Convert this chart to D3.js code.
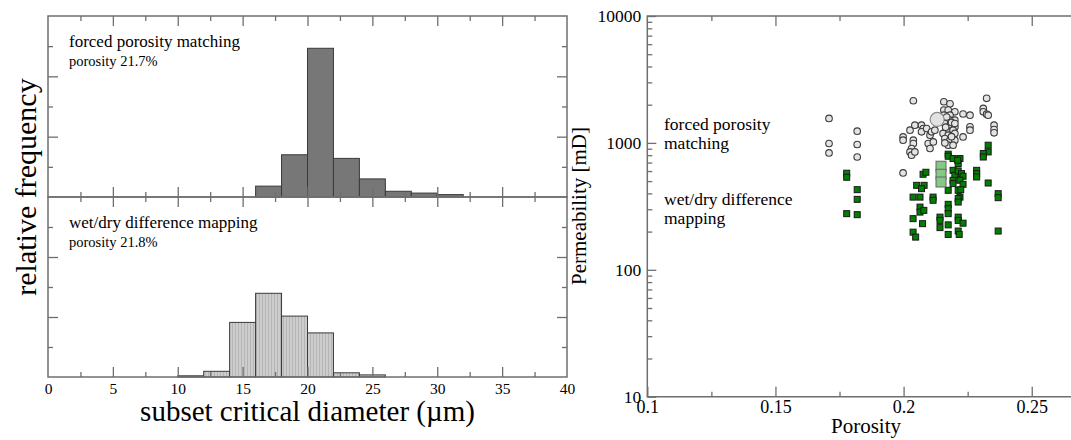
<!DOCTYPE html>
<html><head><meta charset="utf-8">
<script src="https://cdn.jsdelivr.net/npm/d3@7"></script>
<style>
body{margin:0;background:#fff}
svg{display:block}
text{font-family:"Liberation Serif","Times New Roman",serif;fill:#000}
</style>
</head><body>
<svg id="c" width="1071" height="440"></svg>
<script>
// ---------------- data ----------------
const diameterTicks = [0, 5, 10, 15, 20, 25, 30, 35, 40];
const diameterMinorTicks = [2.5, 7.5, 12.5, 17.5, 22.5, 27.5, 32.5, 37.5];
const freqMajorTicks = [0.2, 0.4];
const freqMinorTicks = [0.1, 0.3, 0.5];
const binWidth = 2;
const forcedBinStart = [16, 18, 20, 22, 24, 26, 28, 30];
const forcedFreq = [0.036, 0.140, 0.493, 0.128, 0.060, 0.019, 0.013, 0.008];
const wetDryBinStart = [10, 12, 14, 16, 18, 20, 22, 24];
const wetDryFreq = [0.004, 0.019, 0.182, 0.279, 0.203, 0.147, 0.014, 0.007];

const porosityTicks = [0.1, 0.15, 0.2, 0.25];
const porosityMinorTicks = [0.125, 0.175, 0.225];
const permTicks = [10, 100, 1000, 10000];

// forced porosity matching (porosity, permeability mD)
const forcedPoints = [
  [0.1709,1560],[0.1709,989],[0.1709,834],[0.1819,1237],[0.1819,971],[0.1819,774],
  [0.2038,2148],[0.2157,2109],[0.2181,2033],[0.2157,1813],[0.2174,1813],[0.2200,1758],
  [0.2157,1655],[0.2181,1655],[0.2181,1511],[0.2200,1511],[0.2161,1422],[0.2181,1380],
  [0.2200,1337],[0.2168,1260],[0.2193,1260],[0.2154,1187],[0.2174,1151],[0.2200,1187],
  [0.2161,1083],[0.2181,1050],[0.2200,1050],[0.2174,959],[0.2193,959],
  [0.2232,1690],[0.2259,1655],[0.2232,1115],[0.2259,1340],[0.2259,1260],
  [0.2324,2244],[0.2311,1870],[0.2311,1758],[0.2324,1683],[0.2330,1655],
  [0.2353,1380],[0.2353,1275],[0.2353,1200],
  [0.2025,1260],[0.2044,1380],[0.2070,1380],[0.2077,1299],[0.2070,1222],[0.2090,1299],
  [0.2103,1151],[0.2109,1222],[0.2122,1260],[0.2096,989],[0.2103,903],[0.2116,1018],
  [0.1998,1115],[0.1998,1050],[0.2038,1050],[0.2038,989],[0.2031,903],[0.2025,849],
  [0.2031,800],[0.2044,849],[0.1998,580],
  [0.2168,1600],[0.2187,1450],[0.2164,1330],[0.2187,1120],[0.2161,1000],[0.2200,1420]
];
// wet/dry difference mapping
const wetDryPoints = [
  [0.1778,577],[0.1778,536],[0.1819,428],[0.1819,359],[0.1778,277],[0.1819,272],
  [0.2174,815],[0.2174,785],[0.2193,753],[0.2220,753],[0.2213,687],[0.2211,730],
  [0.2076,566],[0.2087,587],
  [0.2051,463],[0.2080,463],[0.2070,436],
  [0.2037,374],[0.2064,374],
  [0.2115,374],[0.2115,353],
  [0.2064,312],[0.2064,285],[0.2079,294],
  [0.2037,253],[0.2074,231],
  [0.2037,198],[0.2047,181],
  [0.2142,260],[0.2142,245],[0.2142,215],
  [0.2174,328],[0.2174,303],[0.2174,277],[0.2174,226],[0.2174,190],
  [0.2174,423],
  [0.2193,608],[0.2200,556],[0.2193,507],[0.2193,478],
  [0.2213,601],[0.2226,573],[0.2232,546],[0.2220,508],[0.2232,472],
  [0.2213,423],[0.2223,428],
  [0.2220,374],[0.2213,364],[0.2213,342],
  [0.2213,260],[0.2213,245],[0.2232,233],
  [0.2213,202],[0.2217,190],
  [0.2285,608],[0.2285,573],[0.2285,539],
  [0.2330,483],
  [0.2369,398],[0.2369,370],
  [0.2369,202],
  [0.2330,959],[0.2330,849],[0.2311,824],[0.2311,774]
];
const forcedMean = [[0.2131, 1530]];
const wetDryMean = [[0.2146, 655], [0.2146, 566], [0.2146, 492]];

// ---------------- drawing ----------------
const svg = d3.select("#c");
const frameColor = "#6f6f6f";
const tickColor = "#6f6f6f";

function styleAxis(g) {
  g.select(".domain").remove();
  g.selectAll(".tick line").attr("stroke", tickColor).attr("stroke-width", 1.3);
  g.selectAll(".tick text").attr("fill", "#000").style("font-family", '"Liberation Serif",serif');
}

// ----- histograms -----
const hx = d3.scaleLinear().domain([0, 40]).range([48, 567]);
const panels = [
  {top: 16, bottom: 197, starts: forcedBinStart, freqs: forcedFreq, fill: "#777777",
   t1: "forced porosity matching", t2: "porosity 21.7%"},
  {top: 197, bottom: 377, starts: wetDryBinStart, freqs: wetDryFreq, fill: "url(#hatch)",
   t1: "wet/dry difference mapping", t2: "porosity 21.8%"}
];

const defs = svg.append("defs");
const pat = defs.append("pattern").attr("id", "hatch").attr("patternUnits", "userSpaceOnUse")
  .attr("width", 3).attr("height", 10);
pat.append("rect").attr("width", 3).attr("height", 10).attr("fill", "#cdcdcd");
pat.append("line").attr("x1", 1.5).attr("x2", 1.5).attr("y1", 0).attr("y2", 10)
  .attr("stroke", "#b4b4b4").attr("stroke-width", 1);

panels.forEach((p, i) => {
  const y = d3.scaleLinear().domain([0, 0.6]).range([p.bottom, p.top]);
  const g = svg.append("g");
  g.selectAll("rect.bar").data(p.starts).join("rect").attr("class", "bar")
    .attr("x", d => hx(d)).attr("width", d => hx(d + binWidth) - hx(d))
    .attr("y", (d, j) => y(p.freqs[j])).attr("height", (d, j) => y(0) - y(p.freqs[j]))
    .attr("fill", p.fill).attr("stroke", "#3a3a3a").attr("stroke-width", 1);

  // y ticks left & right
  [[d3.axisLeft, 48], [d3.axisRight, 567]].forEach(([ax, xp]) => {
    g.append("g").attr("transform", `translate(${xp},0)`)
      .call(ax(y).tickValues(freqMajorTicks).tickSize(-10).tickFormat(""))
      .call(styleAxis);
    g.append("g").attr("transform", `translate(${xp},0)`)
      .call(ax(y).tickValues(freqMinorTicks).tickSize(-5).tickFormat(""))
      .call(styleAxis);
  });
  // x ticks top & bottom (inward)
  g.append("g").attr("transform", `translate(0,${p.top})`)
    .call(d3.axisTop(hx).tickValues(diameterTicks.slice(1, -1)).tickSize(-10).tickFormat("")).call(styleAxis);
  g.append("g").attr("transform", `translate(0,${p.top})`)
    .call(d3.axisTop(hx).tickValues(diameterMinorTicks).tickSize(-5).tickFormat("")).call(styleAxis);
  g.append("g").attr("transform", `translate(0,${p.bottom})`)
    .call(d3.axisBottom(hx).tickValues(diameterTicks.slice(1, -1)).tickSize(-10).tickFormat("")).call(styleAxis);
  g.append("g").attr("transform", `translate(0,${p.bottom})`)
    .call(d3.axisBottom(hx).tickValues(diameterMinorTicks).tickSize(-5).tickFormat("")).call(styleAxis);

  g.append("rect").attr("x", 48).attr("y", p.top).attr("width", 567 - 48).attr("height", p.bottom - p.top)
    .attr("fill", "none").attr("stroke", frameColor).attr("stroke-width", 1.5);

  g.append("text").attr("x", 69).attr("y", p.top + 31).style("font-size", "17px").text(p.t1);
  g.append("text").attr("x", 69).attr("y", p.top + 50).style("font-size", "14.5px").text(p.t2);
});

// x tick labels of histogram
svg.append("g").attr("transform", "translate(0,377)")
  .call(d3.axisBottom(hx).tickValues(diameterTicks).tickSize(0).tickPadding(6).tickFormat(d3.format("d")))
  .call(styleAxis)
  .selectAll("text").style("font-size", "15.5px");

svg.append("text").attr("x", 307.5).attr("y", 421).attr("text-anchor", "middle")
  .style("font-size", "29px").text("subset critical diameter (\u00b5m)");
svg.append("text").attr("transform", "translate(36,187) rotate(-90)").attr("text-anchor", "middle")
  .style("font-size", "30px").text("relative frequency");

// ----- scatter -----
const sx = d3.scaleLinear().domain([0.1, 0.27]).range([647.3, 1083]);
const sy = d3.scaleLog().domain([10, 10000]).range([396.7, 16]);
const sg = svg.append("g");

const minorPerm = sy.ticks().filter(v => !permTicks.includes(v));
sg.append("g").attr("transform", "translate(647.3,0)")
  .call(d3.axisLeft(sy).tickValues(minorPerm).tickSize(-5).tickFormat("")).call(styleAxis);
sg.append("g").attr("transform", "translate(647.3,0)")
  .call(d3.axisLeft(sy).tickValues(permTicks).tickSize(-9).tickPadding(6).tickFormat(d3.format("d")))
  .call(styleAxis).selectAll("text").style("font-size", "17.5px");

sg.append("g").attr("transform", "translate(0,396.7)")
  .call(d3.axisBottom(sx).tickValues(porosityMinorTicks).tickSize(-5).tickFormat("")).call(styleAxis);
sg.append("g").attr("transform", "translate(0,396.7)")
  .call(d3.axisBottom(sx).tickValues(porosityTicks).tickSize(-10).tickPadding(4).tickFormat(d => String(d)))
  .call(styleAxis).selectAll("text").style("font-size", "18px");
sg.append("g").attr("transform", "translate(0,16)")
  .call(d3.axisTop(sx).tickValues(porosityMinorTicks).tickSize(-5).tickFormat("")).call(styleAxis);
sg.append("g").attr("transform", "translate(0,16)")
  .call(d3.axisTop(sx).tickValues(porosityTicks.slice(1)).tickSize(-10).tickFormat("")).call(styleAxis);

sg.append("path")
  .attr("d", `M1083,16 H647.3 V396.7 H1083`)
  .attr("fill", "none").attr("stroke", frameColor).attr("stroke-width", 1.5);

// points
sg.selectAll("circle.f").data(forcedPoints).join("circle").attr("class", "f")
  .attr("cx", d => sx(d[0])).attr("cy", d => sy(d[1])).attr("r", 3.3)
  .attr("fill", "#e4e4e4").attr("stroke", "#3c3c3c").attr("stroke-width", 1.1);
sg.selectAll("circle.fm").data(forcedMean).join("circle").attr("class", "fm")
  .attr("cx", d => sx(d[0])).attr("cy", d => sy(d[1])).attr("r", 7)
  .attr("fill", "#e2e2e2").attr("stroke", "#8a8a8a").attr("stroke-width", 1.2);

const sq = 6;
sg.selectAll("rect.w").data(wetDryPoints).join("rect").attr("class", "w")
  .attr("x", d => sx(d[0]) - sq / 2).attr("y", d => sy(d[1]) - sq / 2)
  .attr("width", sq).attr("height", sq)
  .attr("fill", "#007f00").attr("stroke", "#1a1a1a").attr("stroke-width", 1);
const bsq = 10;
sg.selectAll("rect.wm").data(wetDryMean).join("rect").attr("class", "wm")
  .attr("x", d => sx(d[0]) - bsq / 2).attr("y", d => sy(d[1]) - bsq / 2)
  .attr("width", bsq).attr("height", bsq)
  .attr("fill", "#86c886").attr("stroke", "#666").attr("stroke-width", 1);

// annotations
const ann = [["forced porosity", 130], ["matching", 148.5], ["wet/dry difference", 205], ["mapping", 224]];
sg.selectAll("text.ann").data(ann).join("text").attr("class", "ann")
  .attr("x", 664).attr("y", d => d[1]).style("font-size", "17.5px").text(d => d[0]);

svg.append("text").attr("x", 866).attr("y", 433).attr("text-anchor", "middle")
  .style("font-size", "21px").text("Porosity");
svg.append("text").attr("transform", "translate(586,206) rotate(-90)").attr("text-anchor", "middle")
  .style("font-size", "21px").text("Permeability [mD]");
</script>
</body></html>
